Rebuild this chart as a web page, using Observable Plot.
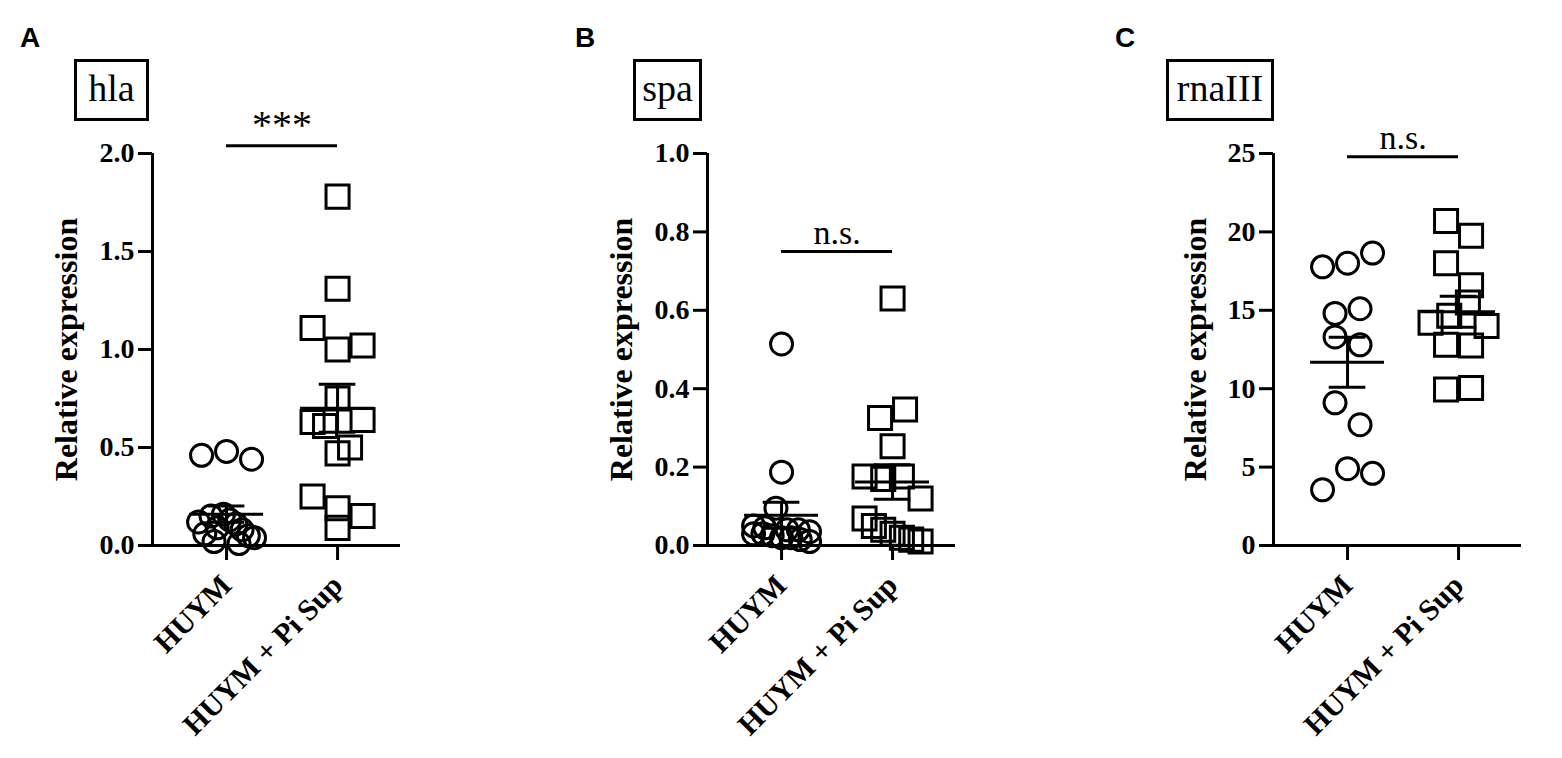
<!DOCTYPE html>
<html><head><meta charset="utf-8">
<script src="https://cdn.jsdelivr.net/npm/d3@7"></script>
<script src="https://cdn.jsdelivr.net/npm/@observablehq/plot@0.6"></script>
<style>
body{margin:0;background:#fff;}
#wrap{position:relative;width:1562px;height:758px;overflow:hidden;background:#fff;}
.panel{position:absolute;top:0;}
.letter{position:absolute;top:22px;font:bold 28px "Liberation Sans",Arial,sans-serif;}
.gene{position:absolute;top:59px;height:62px;box-sizing:border-box;border:3px solid #000;font:38px "Liberation Serif","Times New Roman",serif;display:flex;align-items:center;justify-content:center;padding-bottom:4px;}
</style></head><body><div id="wrap"></div>
<script>
// ---- data ----
const groups = ["HUYM", "HUYM + Pi Sup"];
const panelLetters = ["A", "B", "C"];
const genes = ["hla", "spa", "rnaIII"];
const yMax = [2, 1, 25];
const yTicks = [[0, 0.5, 1, 1.5, 2], [0, 0.2, 0.4, 0.6, 0.8, 1], [0, 5, 10, 15, 20, 25]];
const tickFormats = [".1f", ".1f", "d"];
const sigLabels = ["***", "n.s.", "n.s."];
const sigLevel = [2.04, 0.75, 24.8];
const yLabel = "Relative expression";

const hlaHUYM  = [0.46, 0.48, 0.44, 0.12, 0.06, 0.15, 0.09, 0.16, 0.13, 0.11, 0.08, 0.05, 0.04, 0.02, 0.01];
const hlaPiSup = [1.78, 1.31, 1.11, 1.00, 1.02, 0.63, 0.75, 0.64, 0.61, 0.50, 0.47, 0.25, 0.19, 0.15, 0.09];
const spaHUYM  = [0.514, 0.187, 0.05, 0.045, 0.095, 0.04, 0.04, 0.035, 0.03, 0.03, 0.025, 0.02, 0.02, 0.015, 0.01];
const spaPiSup = [0.63, 0.325, 0.347, 0.253, 0.176, 0.17, 0.176, 0.12, 0.069, 0.05, 0.04, 0.03, 0.02, 0.015, 0.01];
const rnaHUYM  = [17.77, 18.0, 18.65, 14.8, 15.1, 13.3, 12.8, 9.1, 7.7, 3.55, 4.9, 4.6];
const rnaPiSup = [20.7, 19.75, 18.0, 16.6, 14.2, 14.65, 15.5, 14.0, 12.8, 12.75, 9.95, 10.05];

const panelData = [[hlaHUYM, hlaPiSup], [spaHUYM, spaPiSup], [rnaHUYM, rnaPiSup]];

// ---- layout ----
const panelLeft = [0, 555, 1121];
const letterLeft = [20, 575, 1115];
const W = 430, H = 758, ML = 152, MR = 30, MT = 153, MB = 213;
const xDomain = [-0.667, 1.567];
const pxPerX = (W - ML - MR) / (xDomain[1] - xDomain[0]);
const SYM = 25, MAXHALF = 28;

// GraphPad-like horizontal spreading of points with similar values
function spread(vals, g, pxPerY) {
  const thr = SYM / pxPerY;
  const order = d3.range(vals.length).sort((a, b) => vals[b] - vals[a] || a - b);
  const clusters = []; let cur = null;
  for (const k of order) {
    if (cur && vals[cur[0]] - vals[k] < thr) cur.push(k);
    else { cur = [k]; clusters.push(cur); }
  }
  const out = [];
  for (const c of clusters) {
    c.sort((a, b) => a - b);
    const n = c.length;
    const step = n > 1 ? Math.min(SYM, 2 * MAXHALF / (n - 1)) : 0;
    c.forEach((k, j) => out.push({group: g, value: vals[k], x: g + (j - (n - 1) / 2) * step / pxPerX}));
  }
  return out;
}

const wrap = document.getElementById("wrap");

panelData.forEach(([ctrl, trt], i) => {
  const pxPerY = (H - MT - MB) / yMax[i];
  const circles = spread(ctrl, 0, pxPerY);
  const squares = spread(trt, 1, pxPerY);
  const stats = [ctrl, trt].map((v, g) => ({g, m: d3.mean(v), s: d3.deviation(v) / Math.sqrt(v.length)}));
  const fmt = d3.format(tickFormats[i]);

  const plot = Plot.plot({
    width: W, height: H,
    marginLeft: ML, marginRight: MR, marginTop: MT, marginBottom: MB,
    style: {fontFamily: '"Liberation Serif","Times New Roman",serif', fontWeight: "bold", fontSize: "28px", background: "transparent", overflow: "visible"},
    x: {domain: xDomain},
    y: {domain: [0, yMax[i]]},
    marks: [
      Plot.axisY({ticks: yTicks[i], tickFormat: fmt, tickSize: 14, tickPadding: 4, strokeWidth: 3, label: null}),
      Plot.axisX({ticks: [0, 1], tickFormat: d => groups[d], tickSize: 15, tickPadding: 20, tickRotate: -45, strokeWidth: 3, fontSize: 30, label: null}),
      Plot.ruleX([xDomain[0]], {y1: 0, y2: yMax[i], strokeWidth: 3}),
      Plot.ruleY([0], {strokeWidth: 3}),
      Plot.text([yLabel], {frameAnchor: "left", textAnchor: "middle", dx: i === 2 ? -78 : -86, rotate: -90, fontSize: 32}),
      Plot.dot(circles, {x: "x", y: "value", symbol: "circle", r: 11, stroke: "black", strokeWidth: 3, fill: "none"}),
      Plot.dot(squares, {x: "x", y: "value", symbol: "square", r: 13, stroke: "black", strokeWidth: 3, fill: "none"}),
      Plot.ruleY(stats, {y: "m", x1: d => d.g - 0.333, x2: d => d.g + 0.333, strokeWidth: 3}),
      Plot.ruleY(stats, {y: d => d.m + d.s, x1: d => d.g - 0.165, x2: d => d.g + 0.165, strokeWidth: 3}),
      Plot.ruleY(stats, {y: d => d.m - d.s, x1: d => d.g - 0.165, x2: d => d.g + 0.165, strokeWidth: 3}),
      Plot.ruleX(stats, {x: "g", y1: d => d.m - d.s, y2: d => d.m + d.s, strokeWidth: 3}),
      Plot.ruleY([sigLevel[i]], {x1: 0, x2: 1, strokeWidth: 3}),
      Plot.text([sigLabels[i]], {x: 0.5, y: sigLevel[i], dy: -8, lineAnchor: "bottom", fontWeight: "normal", fontSize: sigLabels[i] === "***" ? 40 : 34})
    ]
  });
  plot.classList.add("panel");
  plot.style.left = panelLeft[i] + "px";
  wrap.appendChild(plot);

  const letter = document.createElement("div");
  letter.className = "letter";
  letter.textContent = panelLetters[i];
  letter.style.left = letterLeft[i] + "px";
  wrap.appendChild(letter);
});

// gene title boxes
const geneBoxes = [[74, 75], [633, 69], [1166, 108]];
genes.forEach((g, i) => {
  const b = document.createElement("div");
  b.className = "gene";
  b.textContent = g;
  b.style.left = geneBoxes[i][0] + "px";
  b.style.width = geneBoxes[i][1] + "px";
  wrap.appendChild(b);
});
</script></body></html>
